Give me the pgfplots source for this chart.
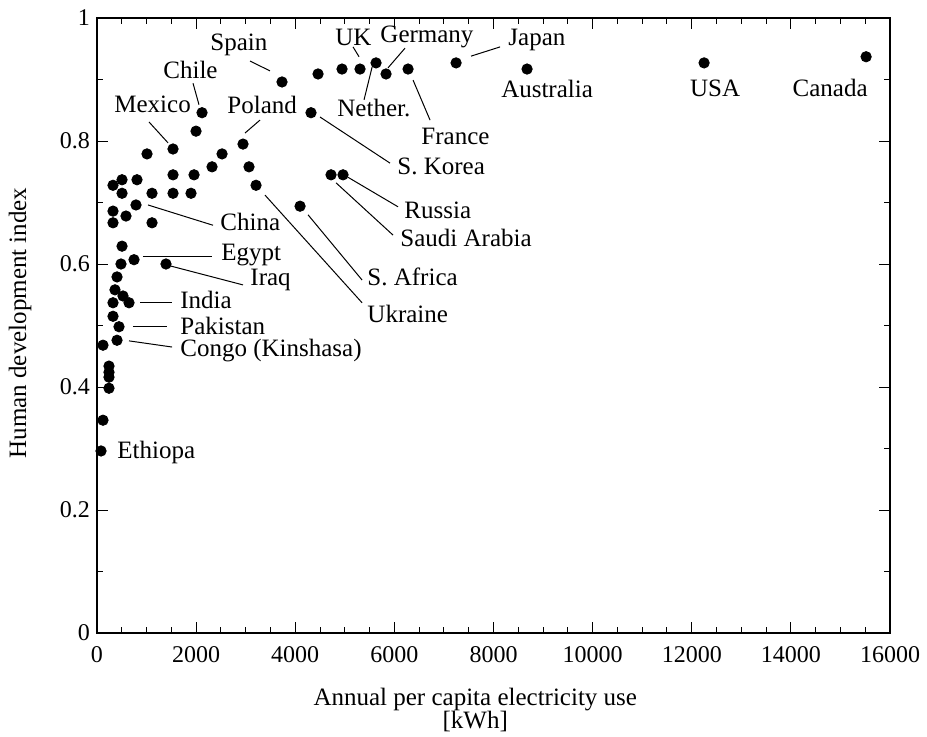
\documentclass[border=0pt]{standalone}
\usepackage{fontspec}
\setmainfont{Liberation Serif}
\usepackage{pgfplots}
\pgfplotsset{compat=1.18}
\begin{document}
\begin{tikzpicture}[font=\fontsize{12.5}{14}\selectfont]
\path (0,0) rectangle (463.5pt,368pt);
\begin{axis}[
  at={(48.5pt,51.5pt)}, anchor=south west,
  scale only axis, width=396.5pt, height=307.5pt,
  xmin=0, xmax=16000, ymin=0, ymax=1,
  xtick={0,2000,...,16000}, ytick={0,0.2,...,1},
  scaled x ticks=false,
  minor x tick num=3, minor y tick num=1,
  tick align=inside,
  major tick length=5.5pt, minor tick length=3pt,
  every tick/.style={black, line width=0.5pt},
  axis line style={black, line width=0.6pt},
  /pgf/number format/assume math mode=true,
  /pgf/number format/1000 sep={},
  tick label style={font=\fontsize{12}{14}\selectfont},
  xticklabel style={yshift=-3pt},
  xlabel={Annual per capita electricity use\\\relax [kWh]},
  xlabel style={at={(axis description cs:0.477,0)}, anchor=north, yshift=-27.5pt, inner sep=0pt, align=center, font=\fontsize{12.5}{11.5}\selectfont},
  ylabel={Human development index},
  ylabel style={at={(axis description cs:-0.0971,0.504)}, anchor=center, font=\fontsize{12.5}{14}\selectfont},
  clip=false,
]
\addplot[only marks, mark=*, mark size=2.6pt, black] coordinates {
(81,0.296) (121,0.346) (242,0.398) (242,0.416) (242,0.424) (242,0.434)
(121,0.468) (404,0.476) (444,0.498) (323,0.515) (323,0.537) (646,0.537)
(525,0.548) (363,0.558) (404,0.579) (484,0.600) (1392,0.600) (747,0.607)
(505,0.629) (323,0.667) (1110,0.667) (585,0.678) (323,0.686) (787,0.696)
(505,0.715) (1110,0.715) (323,0.728) (505,0.737) (807,0.737) (1534,0.715)
(1897,0.715) (1534,0.745) (1958,0.745) (1009,0.779) (1534,0.787) (1998,0.816)
(2119,0.846) (2946,0.795) (2523,0.779) (2321,0.758) (3067,0.758) (3209,0.728)
(4097,0.694) (4722,0.745) (4964,0.745) (4318,0.846) (3733,0.896) (4460,0.909)
(4944,0.917) (5307,0.917) (5630,0.927) (5832,0.909) (6276,0.917) (7245,0.927)
(8677,0.917) (12249,0.927) (15518,0.937)
};
% leader lines
\begin{scope}[black, line width=0.5pt]
\draw (axis cs:3088,0.930) -- (axis cs:3491,0.914);
\draw (axis cs:1937,0.894) -- (axis cs:2058,0.859);
\draw (axis cs:5166,0.953) -- (axis cs:5287,0.937);
\draw (axis cs:6215,0.951) -- (axis cs:5872,0.919);
\draw (axis cs:7547,0.938) -- (axis cs:8133,0.953);
\draw (axis cs:1049,0.831) -- (axis cs:1433,0.797);
\draw (axis cs:3289,0.834) -- (axis cs:2987,0.813);
\draw (axis cs:5550,0.920) -- (axis cs:5388,0.867);
\draw (axis cs:6377,0.899) -- (axis cs:6720,0.834);
\draw (axis cs:4500,0.839) -- (axis cs:5913,0.764);
\draw (axis cs:5065,0.741) -- (axis cs:6074,0.693);
\draw (axis cs:4823,0.732) -- (axis cs:5973,0.647);
\draw (axis cs:1029,0.696) -- (axis cs:2341,0.663);
\draw (axis cs:928,0.613) -- (axis cs:2321,0.613);
\draw (axis cs:1473,0.597) -- (axis cs:2946,0.566);
\draw (axis cs:4258,0.680) -- (axis cs:5348,0.574);
\draw (axis cs:3390,0.712) -- (axis cs:5348,0.537);
\draw (axis cs:868,0.537) -- (axis cs:1514,0.537);
\draw (axis cs:726,0.499) -- (axis cs:1413,0.499);
\draw (axis cs:646,0.475) -- (axis cs:1514,0.465);
\end{scope}
% labels
\begin{scope}[every node/.style={inner sep=0pt, anchor=west, font=\fontsize{12.5}{14}\selectfont}]
\node at (axis cs:2280,0.956) {Spain};
\node at (axis cs:1332,0.915) {Chile};
\node at (axis cs:4803,0.969) {UK};
\node at (axis cs:5711,0.969) {Germany};
\node at (axis cs:8294,0.964) {Japan};
\node at (axis cs:343,0.859) {Mexico};
\node at (axis cs:2623,0.859) {Poland};
\node at (axis cs:4843,0.854) {Nether.};
\node at (axis cs:6538,0.807) {France};
\node at (axis cs:6054,0.758) {S. Korea};
\node at (axis cs:6195,0.688) {Russia};
\node at (axis cs:6115,0.642) {Saudi Arabia};
\node at (axis cs:2482,0.668) {China};
\node at (axis cs:2502,0.615) {Egypt};
\node at (axis cs:3088,0.574) {Iraq};
\node at (axis cs:5449,0.579) {S. Africa};
\node at (axis cs:5449,0.519) {Ukraine};
\node at (axis cs:1675,0.541) {India};
\node at (axis cs:1675,0.499) {Pakistan};
\node at (axis cs:1675,0.459) {Congo (Kinshasa)};
\node at (axis cs:404,0.294) {Ethiopa};
\node[anchor=center] at (axis cs:9081,0.885) {Australia};
\node[anchor=center] at (axis cs:12471,0.886) {USA};
\node[anchor=center] at (axis cs:14792,0.886) {Canada};
\end{scope}
\end{axis}
\end{tikzpicture}
\end{document}
